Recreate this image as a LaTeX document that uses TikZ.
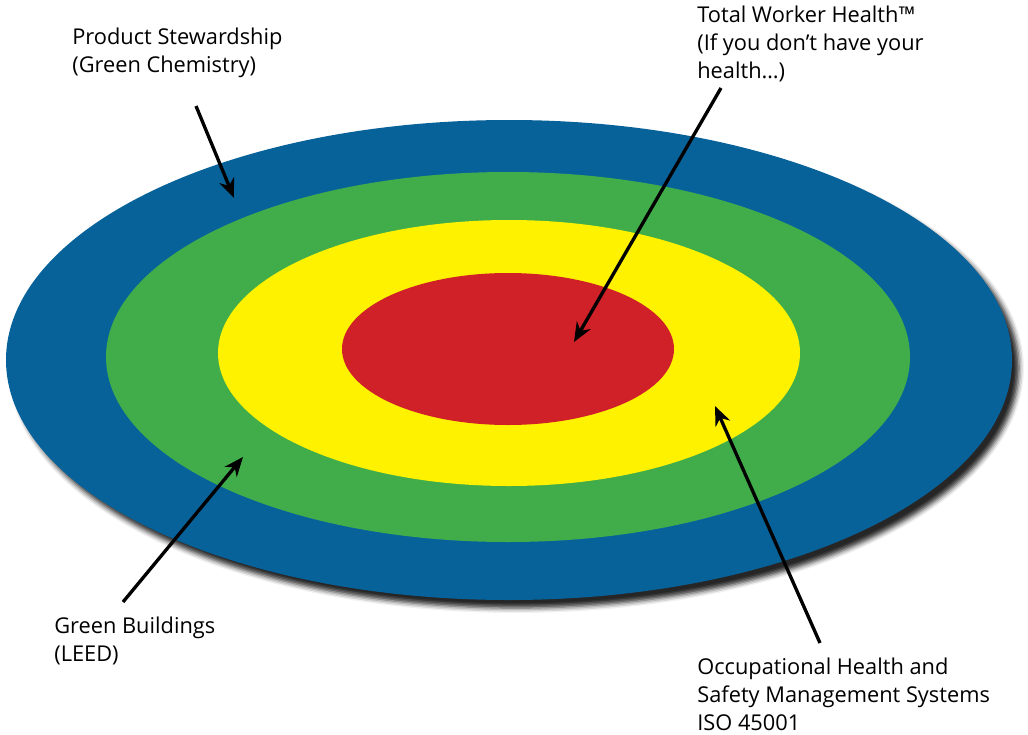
\documentclass[tikz,border=0pt]{standalone}
\usepackage{fontspec}
\setmainfont{Open Sans}
\usetikzlibrary{arrows.meta,shadows.blur}

\definecolor{ringblue}{RGB}{8,98,154}
\definecolor{ringgreen}{RGB}{64,173,74}
\definecolor{ringyellow}{RGB}{255,242,0}
\definecolor{ringred}{RGB}{208,33,41}

\begin{document}
\begin{tikzpicture}[
    x=0.02cm, y=-0.02cm,
    font=\fontsize{12.4}{15.8}\selectfont,
    ringtext/.style={
        anchor=north west,
        inner sep=0pt,
        align=left,
        text=black
    },
    pointer/.style={
        -{Stealth[length=11pt,width=9pt]},
        line width=1.9pt,
        draw=black
    }
]

% ---------------------------------------------------------
% Canvas
% ---------------------------------------------------------
\path[use as bounding box] (0,0) rectangle (1028,734);

% ---------------------------------------------------------
% Target rings, outermost first
% ---------------------------------------------------------
\fill[ringblue, blur shadow={shadow xshift=4pt, shadow yshift=-4.6pt,
    shadow blur radius=2.8pt, shadow opacity=85}]
    (509,360) ellipse [x radius=503, y radius=240];
\fill[ringgreen]  (508,357) ellipse [x radius=402, y radius=185];
\fill[ringyellow] (509,353) ellipse [x radius=291, y radius=133];
\fill[ringred]    (508,349) ellipse [x radius=166, y radius=76];

% ---------------------------------------------------------
% Labels
% ---------------------------------------------------------
\node[ringtext] (stewardship) at (72,28)
    {Product Stewardship\\(Green Chemistry)};
\node[ringtext] (twh) at (697,6)
    {Total Worker Health™\\(If you don’t have your\\health…)};
\node[ringtext] (buildings) at (54,617)
    {Green Buildings\\(LEED)};
\node[ringtext] (ohs) at (697,658)
    {Occupational Health and\\Safety Management Systems\\ISO 45001};

% arrow ends
\coordinate (stewardship-tail) at (196,106);
\coordinate (stewardship-tip)  at (234,198);
\coordinate (twh-tail)         at (721,88);
\coordinate (twh-tip)          at (574,342);
\coordinate (buildings-tail)   at (123,602);
\coordinate (buildings-tip)    at (243,457);
\coordinate (ohs-tail)         at (820,643);
\coordinate (ohs-tip)          at (715,406);

\draw[pointer] (stewardship-tail) -- (stewardship-tip);
\draw[pointer] (twh-tail) -- (twh-tip);
\draw[pointer] (buildings-tail) -- (buildings-tip);
\draw[pointer] (ohs-tail) -- (ohs-tip);

\end{tikzpicture}
\end{document}
